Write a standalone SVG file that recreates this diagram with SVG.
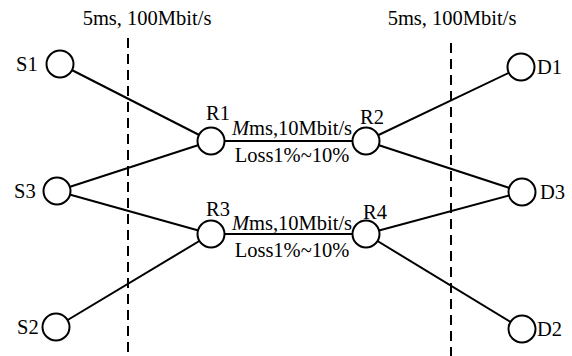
<svg xmlns="http://www.w3.org/2000/svg" width="572" height="356" viewBox="0 0 572 356">
<style>
text{font-family:"Liberation Serif","Times New Roman",serif;font-size:20.5px;fill:#000}
.n{fill:#fff;stroke:#000;stroke-width:2}
.e{stroke:#000;stroke-width:2;fill:none}
.d{stroke:#000;stroke-width:2;stroke-dasharray:10,6;fill:none}
</style>
<rect width="572" height="356" fill="#fff"/>
<g id="dividers">
<line class="d" x1="128" y1="38" x2="128" y2="356"/>
<line class="d" x1="451" y1="43" x2="451" y2="356"/>
<text x="147" y="25" text-anchor="middle">5ms, 100Mbit/s</text>
<text x="452" y="25" text-anchor="middle">5ms, 100Mbit/s</text>
</g>
<g id="connectors">
<line class="e" x1="60" y1="64" x2="211" y2="141"/>
<line class="e" x1="57" y1="191" x2="211" y2="141"/>
<line class="e" x1="57" y1="191" x2="211" y2="234"/>
<line class="e" x1="56" y1="327" x2="211" y2="234"/>
<line class="e" x1="211" y1="141" x2="366" y2="141"/>
<line class="e" x1="211" y1="234" x2="366" y2="234"/>
<line class="e" x1="366" y1="141" x2="521" y2="67"/>
<line class="e" x1="366" y1="141" x2="522" y2="192"/>
<line class="e" x1="366" y1="234" x2="522" y2="192"/>
<line class="e" x1="366" y1="234" x2="522" y2="329"/>
<text x="292" y="135" text-anchor="middle"><tspan font-style="italic">M</tspan>ms,10Mbit/s</text>
<text x="292" y="162" text-anchor="middle">Loss1%~10%</text>
<text x="292" y="230" text-anchor="middle"><tspan font-style="italic">M</tspan>ms,10Mbit/s</text>
<text x="292" y="257" text-anchor="middle">Loss1%~10%</text>
</g>
<g id="S1"><circle class="n" cx="60" cy="64" r="13.5"/><text x="16" y="71">S1</text></g>
<g id="S3"><circle class="n" cx="57" cy="191" r="13.5"/><text x="14" y="198">S3</text></g>
<g id="S2"><circle class="n" cx="56" cy="327" r="13.5"/><text x="17" y="334">S2</text></g>
<g id="R1"><circle class="n" cx="211" cy="141" r="13.5"/><text x="206" y="120">R1</text></g>
<g id="R3"><circle class="n" cx="211" cy="234" r="13.5"/><text x="206" y="216">R3</text></g>
<g id="R2"><circle class="n" cx="366" cy="141" r="13.5"/><text x="360" y="124">R2</text></g>
<g id="R4"><circle class="n" cx="366" cy="234" r="13.5"/><text x="363" y="219">R4</text></g>
<g id="D1"><circle class="n" cx="521" cy="67" r="13.5"/><text x="537" y="74">D1</text></g>
<g id="D3"><circle class="n" cx="522" cy="192" r="13.5"/><text x="540" y="199">D3</text></g>
<g id="D2"><circle class="n" cx="522" cy="329" r="13.5"/><text x="537" y="336">D2</text></g>
</svg>
